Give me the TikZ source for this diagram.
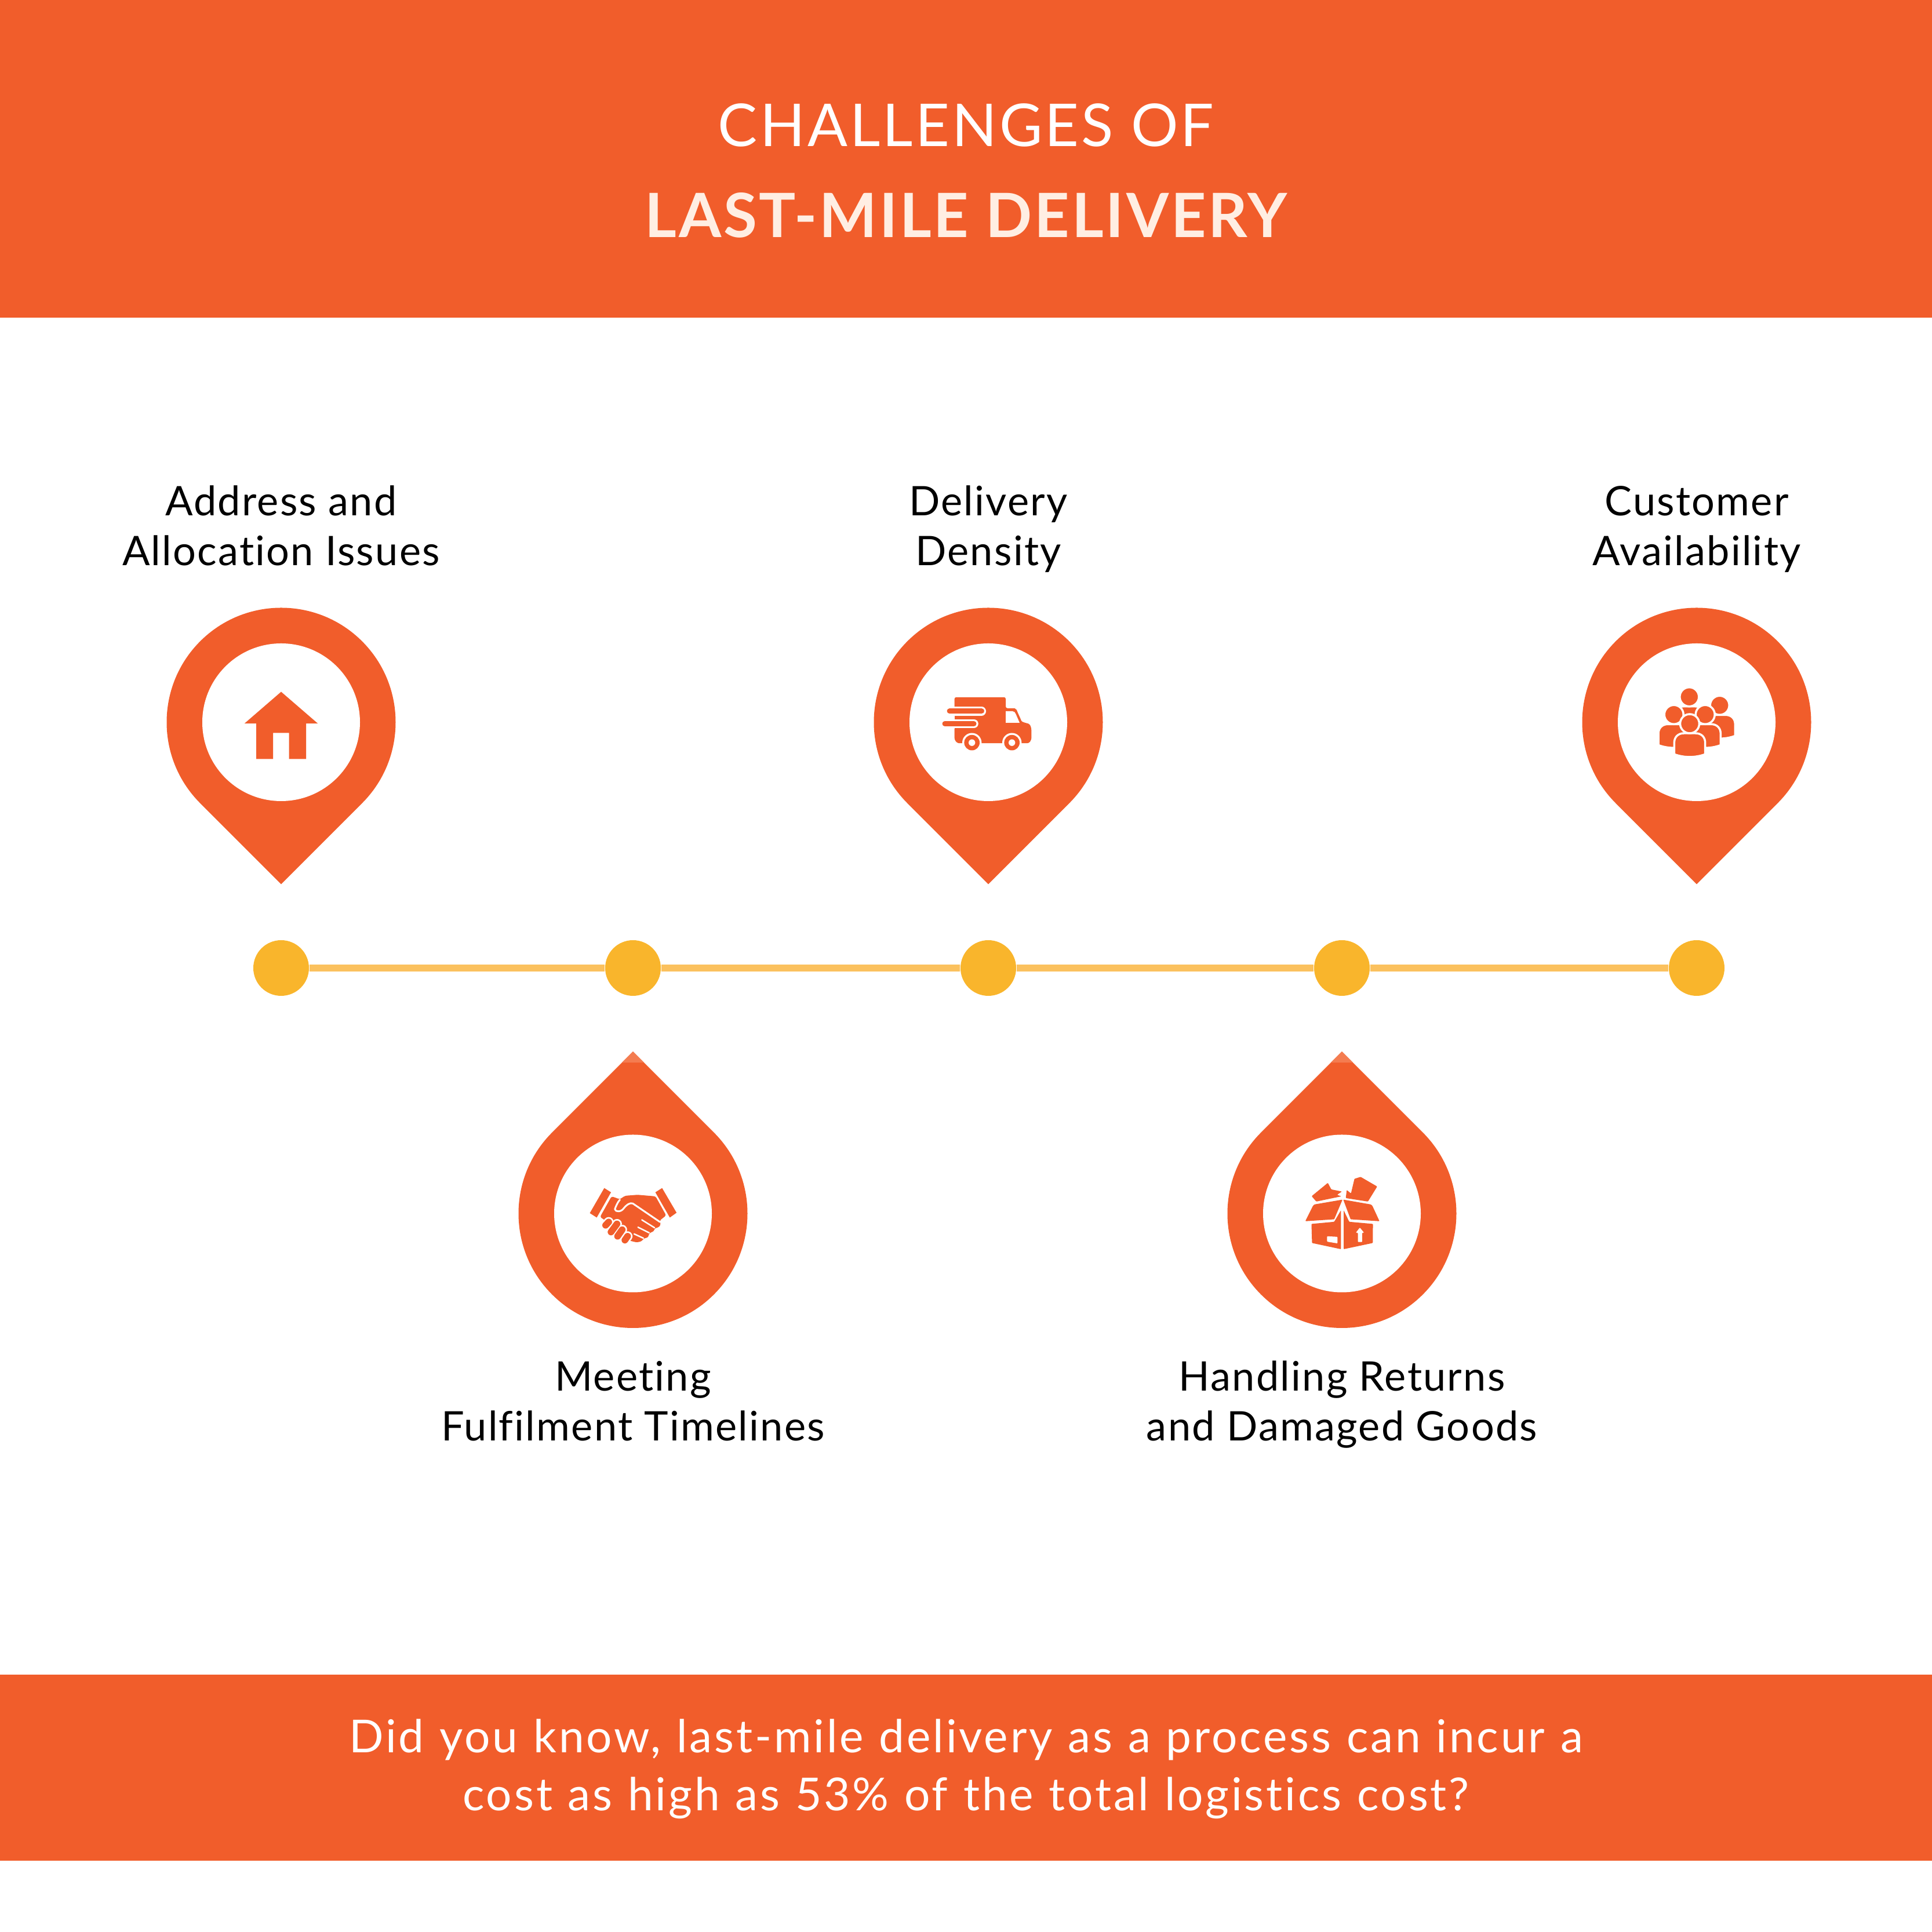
\documentclass[tikz,border=0pt]{standalone}
\usepackage{fontspec}
\setmainfont{Lato}
\newfontface\titlefont[LetterSpace=4, Ligatures=NoCommon]{Lato}
\newfontface\titleboldfont[LetterSpace=3.6, Ligatures=NoCommon]{Lato Bold}
\newfontface\notefont[LetterSpace=4.9, WordSpace=1.12, Ligatures=NoCommon]{Lato}
\newfontface\captionfont[LetterSpace=3.2, Ligatures=NoCommon]{Lato}
\definecolor{brand}{HTML}{F15D2B}
\definecolor{brandtip}{HTML}{F47C50}
\definecolor{cream}{HTML}{FFEEE3}
\definecolor{stopcolor}{HTML}{F9B52C}
\definecolor{linecolor}{HTML}{FBC15E}
\tikzset{
    band/.style = {fill = brand, minimum width = 33.33cm, inner sep = 0pt},
    stopdot/.style = {circle, fill = stopcolor, minimum size = 0.96cm, inner sep = 0pt},
    timeline/.style = {draw = linecolor, line width = 0.115cm},
    caption/.style = {align = center, inner sep = 0pt, font = \fontsize{20}{24.5}\selectfont\captionfont},
    note/.style = {align = center, inner sep = 0pt, text = white, font = \fontsize{22.3}{28.4}\selectfont\notefont},
    persona/.style = {fill = brand, draw = white, line width = 0.035cm},
    pindown/.pic = {
        \fill[brand] (0, -2.793) -- (-45:1.975) arc (-45:225:1.975) -- cycle;
        \fill[white] (0, 0) circle (1.36);
    },
    pinup/.pic = {
        \fill[brand] (0, 2.793) -- (225:-1.975) arc (45:-225:1.975) -- cycle;
        \fill[brandtip] (0, 2.793) -- (0.19, 2.603) -- (-0.19, 2.603) -- cycle;
        \fill[white] (0, 0) circle (1.36);
    },
    houseicon/.pic = {
        \fill[brand] (0, 0.525) -- (0.633, -0.022) -- (0.43, -0.022) -- (0.43, -0.635)
            -- (0.135, -0.635) -- (0.135, -0.185) -- (-0.14, -0.185) -- (-0.14, -0.635)
            -- (-0.43, -0.635) -- (-0.43, -0.022) -- (-0.633, -0.022) -- cycle;
    },
    truckicon/.pic = {
        \fill[brand, rounded corners = 0.03cm] (-0.583, 0.432) -- (0.3, 0.432) -- (0.3, 0.242)
            -- (0.417, 0.242) .. controls (0.46, 0.242) and (0.49, 0.21) .. (0.5, 0.182)
            -- (0.56, 0.05) .. controls (0.58, 0.0) and (0.68, -0.02) .. (0.717, -0.035)
            -- (0.743, -0.108) -- (0.743, -0.302) -- (0.7, -0.362) -- (-0.533, -0.362)
            -- (-0.583, -0.302) -- cycle;
        \fill[white] (0.3, 0.19) -- (0.417, 0.19) .. controls (0.45, 0.19) and (0.46, 0.17) .. (0.475, 0.14)
            -- (0.54, -0.01) -- (0.3, -0.01) -- cycle;
        \draw[white, line width = 0.155cm, line cap = round] (-0.667, 0.192) -- (-0.117, 0.192);
        \draw[white, line width = 0.155cm, line cap = round] (-0.75, -0.025) -- (-0.25, -0.025);
        \fill[white] (-0.75, 0.27) rectangle (-0.583, -0.11);
        \draw[brand, line width = 0.094cm, line cap = round] (-0.667, 0.192) -- (-0.117, 0.192);
        \draw[brand, line width = 0.09cm, line cap = round] (-0.75, -0.025) -- (-0.25, -0.025);
        \fill[white] (-0.283, -0.352) circle (0.167);
        \fill[white] (0.407, -0.352) circle (0.167);
        \fill[brand] (-0.283, -0.352) circle (0.133);
        \fill[brand] (0.407, -0.352) circle (0.133);
        \fill[white] (-0.283, -0.352) circle (0.057);
        \fill[white] (0.407, -0.352) circle (0.057);
    },
    person/.pic = {
        \filldraw[persona] (-0.267, -0.527) -- (-0.267, -0.33) .. controls (-0.267, -0.23) and (-0.2, -0.165) .. (-0.1, -0.165)
            -- (0.1, -0.165) .. controls (0.2, -0.165) and (0.267, -0.23) .. (0.267, -0.33)
            -- (0.267, -0.527) .. controls (0.1, -0.59) and (-0.1, -0.59) .. cycle;
        \filldraw[persona] (0, 0) circle (0.165);
    },
    peopleicon/.pic = {
        \pic at (-0.127, 0.438) {person};
        \pic at (0.397, 0.292) {person};
        \pic at (-0.393, 0.132) {person};
        \pic at (0.147, 0.132) {person};
        \pic at (-0.12, -0.025) {person};
    },
    handsicon/.pic = {
        \begin{scope}[x = 0.00333cm, y = -0.00333cm, shift = {(-276, -222)}]
            \fill[brand] (127, 90) -- (162, 112) -- (88, 243) -- (52, 220) -- cycle;
            \fill[brand] (427, 90) -- (392, 112) -- (467, 243) -- (502, 218) -- cycle;
            \fill[brand, rounded corners = 0.03cm] (165, 133) -- (208, 148) -- (235, 130) -- (300, 125) -- (393, 133)
                -- (448, 232) -- (415, 258) -- (420, 282) -- (405, 296) -- (388, 298) -- (385, 314)
                -- (360, 324) -- (355, 346) -- (330, 352) -- (322, 366) -- (295, 372) -- (255, 362)
                -- (150, 270) -- (105, 240) -- cycle;
            \draw[white, line width = 0.03cm, line cap = round, line join = round] (208, 150) .. controls (195, 165) and (185, 190) .. (182, 200)
                .. controls (185, 215) and (215, 215) .. (228, 195) .. controls (245, 175) and (260, 165) .. (275, 170)
                -- (416, 266);
            \draw[white, line width = 0.025cm, line cap = round] (322, 255) -- (388, 296);
            \draw[white, line width = 0.025cm, line cap = round] (302, 293) -- (360, 322);
            \draw[white, line width = 0.025cm, line cap = round] (282, 328) -- (330, 350);
            \draw[white, line width = 0.17cm, line cap = round] (134, 283) -- (150, 266);
            \draw[white, line width = 0.17cm, line cap = round] (162, 318) -- (193, 276);
            \draw[white, line width = 0.17cm, line cap = round] (196, 340) -- (220, 306);
            \draw[white, line width = 0.17cm, line cap = round] (234, 360) -- (248, 340);
            \draw[brand, line width = 0.115cm, line cap = round] (134, 283) -- (150, 266);
            \draw[brand, line width = 0.115cm, line cap = round] (162, 318) -- (193, 276);
            \draw[brand, line width = 0.115cm, line cap = round] (196, 340) -- (220, 306);
            \draw[brand, line width = 0.115cm, line cap = round] (234, 360) -- (248, 340);
        \end{scope}
    },
    boxicon/.pic = {
        \begin{scope}[x = 0.00333cm, y = -0.00333cm, shift = {(-255, -252)}, rounded corners = 0.01cm]
            \fill[brand] (182, 93) -- (200, 127) -- (255, 138) -- (230, 155) -- (252, 163) -- (122, 190) -- (98, 162) -- cycle;
            \fill[brand] (320, 72) -- (352, 62) -- (438, 112) -- (390, 190) -- (275, 172) -- (280, 130) -- (302, 148) -- cycle;
            \fill[brand] (258, 180) -- (112, 205) -- (105, 212) -- (65, 292) -- (215, 282) -- cycle;
            \fill[brand] (262, 180) -- (405, 205) -- (413, 212) -- (450, 292) -- (300, 282) -- cycle;
            \fill[brand] (250, 235) -- (215, 295) -- (97, 306) -- (100, 405) -- (250, 437) -- cycle;
            \fill[brand] (264, 235) -- (293, 295) -- (416, 306) -- (415, 405) -- (264, 437) -- cycle;
            \fill[white] (178, 370) -- (232, 373) -- (232, 407) -- (178, 398) -- cycle;
            \fill[white] (348, 325) -- (370, 352) -- (360, 352) -- (360, 400) -- (338, 400) -- (338, 352) -- (327, 352) -- cycle;
        \end{scope}
    }
}

\begin{document}
\begin{tikzpicture}
    \useasboundingbox (0, 0) rectangle (33.33, 33.33);

    \node[band, minimum height = 5.48cm] (topband) at (16.665, 30.59) {};
    \node[band, minimum height = 3.21cm] (noteband) at (16.665, 2.835) {};

    \node[anchor = base, inner sep = 0pt, text = white, font = \fontsize{29}{29}\selectfont\titlefont] (titleone) at (16.665, 30.80) {CHALLENGES OF};
    \node[anchor = base, inner sep = 0pt, text = cream, font = \fontsize{30}{30}\selectfont\titleboldfont] (titletwo) at (16.665, 29.23) {LAST-MILE DELIVERY};

    \pic at (4.85, 20.87) {pindown};
    \pic at (17.05, 20.87) {pindown};
    \pic at (29.27, 20.87) {pindown};
    \pic at (10.92, 12.395) {pinup};
    \pic at (23.15, 12.395) {pinup};

    \pic at (4.85, 20.87) {houseicon};
    \pic at (17.05, 20.87) {truckicon};
    \pic at (29.27, 20.87) {peopleicon};
    \pic at (10.92, 12.395) {handsicon};
    \pic at (23.15, 12.395) {boxicon};

    \node[stopdot] (stopa) at (4.85, 16.63) {};
    \node[stopdot] (stopb) at (10.92, 16.63) {};
    \node[stopdot] (stopc) at (17.05, 16.63) {};
    \node[stopdot] (stopd) at (23.15, 16.63) {};
    \node[stopdot] (stope) at (29.27, 16.63) {};

    \draw[timeline] (stopa) -- (stopb);
    \draw[timeline] (stopb) -- (stopc);
    \draw[timeline] (stopc) -- (stopd);
    \draw[timeline] (stopd) -- (stope);

    \node[caption] (addr) at (4.85, 24.26) {Address and\\Allocation Issues};
    \node[caption] (density) at (17.05, 24.20) {Delivery\\Density};
    \node[caption] (avail) at (29.27, 24.20) {Customer\\Availability};
    \node[caption] (meeting) at (10.92, 9.16) {Meeting\\Fulfilment Timelines};
    \node[caption] (returns) at (23.15, 9.10) {Handling Returns\\and Damaged Goods};

    \node[note] (fact) at (16.665, 2.815) {Did you know, last-mile delivery as a process can incur a\\cost as high as 53\% of the total logistics cost?};
\end{tikzpicture}
\end{document}
